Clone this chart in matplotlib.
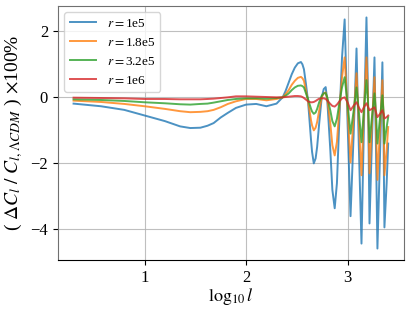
import matplotlib
matplotlib.use('agg')

import matplotlib.pyplot as plt
import numpy as np

# log10(l) sample points
logl = [0.30, 0.57, 0.80, 1.00, 1.20, 1.35, 1.45, 1.55, 1.62, 1.68,
        1.75, 1.82, 1.90, 2.00, 2.10, 2.20, 2.30, 2.36, 2.39, 2.42,
        2.45, 2.48, 2.51, 2.54, 2.555, 2.57, 2.59, 2.61, 2.625, 2.64,
        2.65, 2.667, 2.685, 2.70, 2.72, 2.745, 2.765, 2.784, 2.80, 2.83,
        2.85, 2.873, 2.895, 2.92, 2.945, 2.971, 3.00, 3.029, 3.06, 3.088,
        3.11, 3.137, 3.16, 3.186, 3.20, 3.216, 3.24, 3.265, 3.28, 3.294,
        3.32, 3.343, 3.355, 3.363, 3.385, 3.40]

d_1e5 = [-0.19, -0.27, -0.38, -0.55, -0.72, -0.88, -0.93, -0.92, -0.86, -0.78,
         -0.61, -0.47, -0.32, -0.22, -0.20, -0.27, -0.19, 0.00, 0.20, 0.45,
         0.70, 0.90, 1.03, 1.07, 1.00, 0.85, 0.40, -0.10, -0.70, -1.30,
         -1.65, -2.00, -1.85, -1.50, -0.80, 0.00, 0.25, 0.31, -0.10, -1.60,
         -2.80, -3.36, -2.60, -0.60, 1.20, 2.36, -0.80, -3.60, -1.10, 1.48,
         -1.40, -4.43, -1.00, 2.42, 0.30, -3.82, -1.30, 1.21, -1.60, -4.58,
         -1.70, 1.06, -1.40, -3.94, -2.60, -1.40]

d_1p8e5 = [-0.10, -0.14, -0.20, -0.27, -0.35, -0.42, -0.45, -0.44, -0.42, -0.38,
           -0.30, -0.20, -0.12, -0.05, -0.05, -0.09, -0.05, 0.00, 0.10, 0.22,
           0.38, 0.50, 0.59, 0.62, 0.58, 0.50, 0.20, -0.10, -0.40, -0.70,
           -0.85, -1.00, -0.92, -0.75, -0.40, 0.00, 0.12, 0.15, -0.05, -0.80,
           -1.45, -1.76, -1.35, -0.30, 0.60, 1.21, -0.40, -1.97, -0.60, 0.73,
           -0.70, -2.36, -0.50, 1.21, 0.10, -2.30, -0.80, 0.61, -0.90, -2.50,
           -0.90, 0.52, -0.70, -2.36, -1.60, -0.90]

d_3p2e5 = [-0.06, -0.08, -0.11, -0.15, -0.18, -0.21, -0.22, -0.20, -0.19, -0.16,
           -0.12, -0.08, -0.05, -0.03, -0.03, -0.04, -0.02, 0.00, 0.05, 0.12,
           0.22, 0.30, 0.35, 0.36, 0.34, 0.30, 0.12, -0.05, -0.20, -0.35,
           -0.43, -0.50, -0.46, -0.35, -0.15, 0.05, 0.12, 0.13, 0.00, -0.40,
           -0.72, -0.88, -0.65, -0.15, 0.30, 0.61, -0.20, -1.10, -0.40, 0.30,
           -0.40, -1.36, -0.40, 0.52, -0.10, -1.36, -0.60, 0.12, -0.50, -1.40,
           -0.60, 0.06, -0.50, -1.40, -0.90, -0.60]

d_1e6 = [-0.01, -0.02, -0.03, -0.05, -0.05, -0.06, -0.06, -0.06, -0.05, -0.04,
         -0.02, 0.00, 0.03, 0.03, 0.02, 0.01, 0.00, 0.00, 0.01, 0.02,
         0.03, 0.04, 0.04, 0.03, 0.01, -0.02, -0.07, -0.12, -0.14, -0.15,
         -0.15, -0.14, -0.11, -0.08, -0.04, -0.03, -0.03, -0.05, -0.10, -0.20,
         -0.26, -0.28, -0.22, -0.12, -0.03, 0.00, -0.15, -0.39, -0.25, -0.15,
         -0.30, -0.45, -0.30, -0.18, -0.28, -0.39, -0.35, -0.30, -0.45, -0.60,
         -0.50, -0.39, -0.50, -0.64, -0.60, -0.55]

series = [(d_1e5, '1e5'), (d_1p8e5, '1.8e5'), (d_3p2e5, '3.2e5'), (d_1e6, '1e6')]

plt.rcParams['font.family'] = ['Liberation Serif', 'DejaVu Serif']
plt.rcParams['mathtext.fontset'] = 'stix'

fig = plt.figure(figsize=(4.13, 3.10), dpi=100)
ax = fig.add_axes([0.140, 0.161, 0.838, 0.820])

for vals, name in series:
    ax.plot(logl, vals, lw=1.4, alpha=0.8, label=r'$r=$' + name)

ax.set_xticks([1, 2, 3])
ax.set_yticks([-4, -2, 0, 2])
ax.tick_params(labelsize=12)
ax.grid(color='#b0b0b0', lw=0.8, alpha=0.8)
for s in ['top', 'right', 'left']:
    ax.spines[s].set_color('#707070')

ax.set_xlabel(r'$\log_{10}l$', fontsize=13, labelpad=0)
ax.set_ylabel(r'( $\Delta C_l\ /\ C_{l,\Lambda CDM}$ ) $\times$100%', fontsize=14, labelpad=4)
ax.legend(loc='upper left', fontsize=9.5)

fig.savefig('out.png', dpi=100)
